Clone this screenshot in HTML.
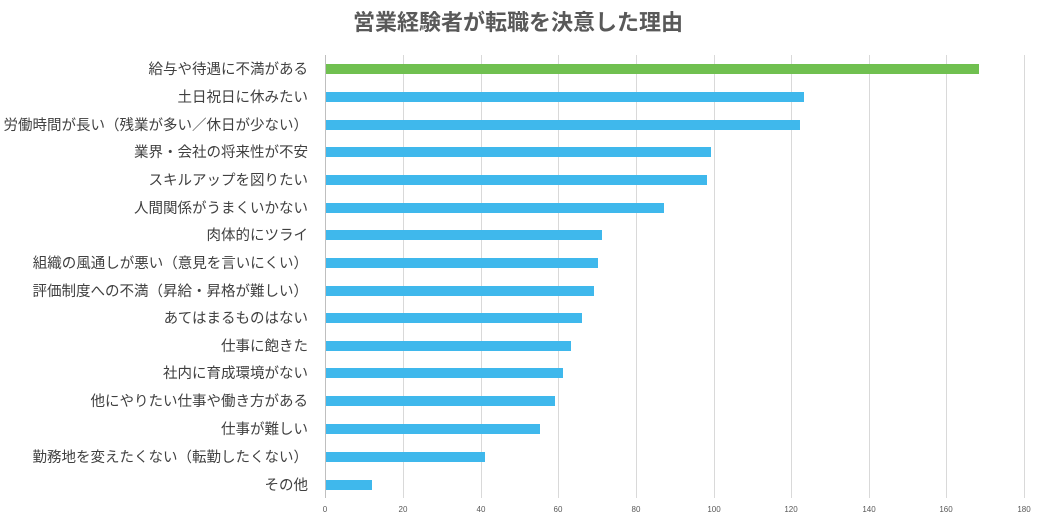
<!DOCTYPE html>
<html><head><meta charset="utf-8"><style>
body{margin:0;background:#fff;}
svg{display:block;font-family:"Liberation Sans","Noto Sans CJK JP",sans-serif;}
</style></head><body>
<svg width="1040" height="516" xmlns="http://www.w3.org/2000/svg">
<text x="518" y="30" text-anchor="middle" font-size="22" font-weight="bold" fill="#595959">営業経験者が転職を決意した理由</text>
<g stroke="#d9d9d9" stroke-width="1">
<line x1="403.5" y1="55" x2="403.5" y2="498"/><line x1="481.5" y1="55" x2="481.5" y2="498"/>
<line x1="558.5" y1="55" x2="558.5" y2="498"/><line x1="636.5" y1="55" x2="636.5" y2="498"/>
<line x1="714.5" y1="55" x2="714.5" y2="498"/><line x1="791.5" y1="55" x2="791.5" y2="498"/>
<line x1="869.5" y1="55" x2="869.5" y2="498"/><line x1="946.5" y1="55" x2="946.5" y2="498"/>
<line x1="1024.5" y1="55" x2="1024.5" y2="498"/>
<line x1="325.5" y1="55" x2="325.5" y2="498" stroke="#bfbfbf"/>
</g>
<g font-size="8" fill="#595959" text-anchor="middle">
<text x="325" y="512">0</text><text x="403" y="512">20</text><text x="481" y="512">40</text><text x="558" y="512">60</text><text x="636" y="512">80</text><text x="714" y="512">100</text><text x="791" y="512">120</text><text x="869" y="512">140</text><text x="946" y="512">160</text><text x="1024" y="512">180</text>
</g>
<g font-size="14.5" fill="#404040" text-anchor="end">
<rect x="326" y="64" width="653" height="10" fill="#70c050"/>
<rect x="326" y="92" width="478" height="10" fill="#3fb8ec"/>
<rect x="326" y="120" width="474" height="10" fill="#3fb8ec"/>
<rect x="326" y="147" width="385" height="10" fill="#3fb8ec"/>
<rect x="326" y="175" width="381" height="10" fill="#3fb8ec"/>
<rect x="326" y="203" width="338" height="10" fill="#3fb8ec"/>
<rect x="326" y="230" width="276" height="10" fill="#3fb8ec"/>
<rect x="326" y="258" width="272" height="10" fill="#3fb8ec"/>
<rect x="326" y="286" width="268" height="10" fill="#3fb8ec"/>
<rect x="326" y="313" width="256" height="10" fill="#3fb8ec"/>
<rect x="326" y="341" width="245" height="10" fill="#3fb8ec"/>
<rect x="326" y="368" width="237" height="10" fill="#3fb8ec"/>
<rect x="326" y="396" width="229" height="10" fill="#3fb8ec"/>
<rect x="326" y="424" width="214" height="10" fill="#3fb8ec"/>
<rect x="326" y="452" width="159" height="10" fill="#3fb8ec"/>
<rect x="326" y="480" width="46" height="10" fill="#3fb8ec"/>
<text x="308" y="74">給与や待遇に不満がある</text>
<text x="308" y="102">土日祝日に休みたい</text>
<text x="308" y="130">労働時間が長い（残業が多い／休日が少ない）</text>
<text x="308" y="157">業界・会社の将来性が不安</text>
<text x="308" y="185">スキルアップを図りたい</text>
<text x="308" y="213">人間関係がうまくいかない</text>
<text x="308" y="240">肉体的にツライ</text>
<text x="308" y="268">組織の風通しが悪い（意見を言いにくい）</text>
<text x="308" y="296">評価制度への不満（昇給・昇格が難しい）</text>
<text x="308" y="323">あてはまるものはない</text>
<text x="308" y="351">仕事に飽きた</text>
<text x="308" y="378">社内に育成環境がない</text>
<text x="308" y="406">他にやりたい仕事や働き方がある</text>
<text x="308" y="434">仕事が難しい</text>
<text x="308" y="462">勤務地を変えたくない（転勤したくない）</text>
<text x="308" y="490">その他</text>
</g>
</svg>
</body></html>
